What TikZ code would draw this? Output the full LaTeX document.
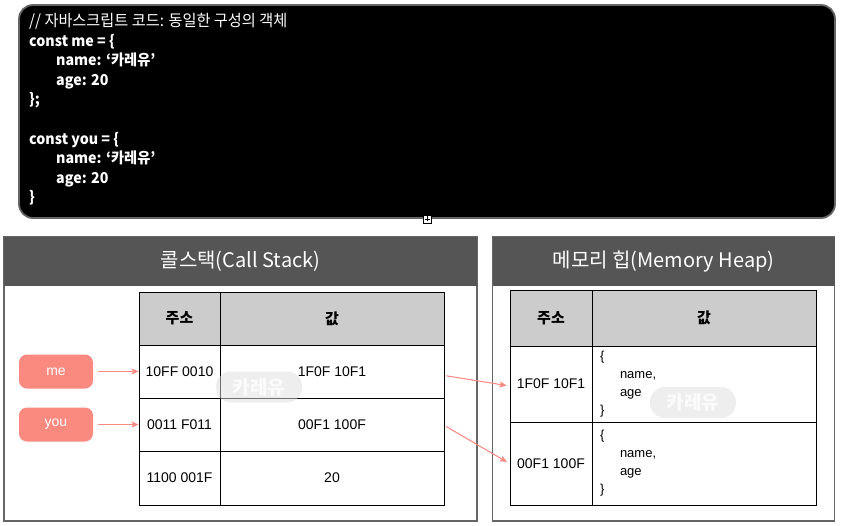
\documentclass[tikz,border=0pt]{standalone}
\usepackage{fontspec}
\usetikzlibrary{arrows.meta}
\setmainfont{Liberation Sans}
\newfontfamily\kr{Noto Sans CJK KR}
\newfontfamily\codefont[FakeStretch=0.95]{Noto Sans CJK KR}
\definecolor{salmon}{HTML}{FA8980}
\definecolor{hdgray}{HTML}{555555}
\definecolor{rimgray}{HTML}{666666}
\definecolor{cellgray}{HTML}{CCCCCC}

\begin{document}
\begin{tikzpicture}[x=1pt,y=-1pt,>={Stealth[length=7pt,width=6pt,inset=1.5pt]},
  cell/.style={draw,line width=0.9pt,inner sep=0pt,font=\fontsize{14}{16}\selectfont},
  headcell/.style={cell,fill=cellgray,font=\kr\bfseries\fontsize{15}{17}\selectfont},
  var/.style={fill=salmon,rounded corners=8pt,text=white,minimum width=74pt,minimum height=34pt,inner sep=0pt,font=\fontsize{14}{16}\selectfont},
  ptr/.style={->,draw=salmon,fill=salmon,line width=1pt},
  panel/.style={draw=rimgray,line width=1.6pt,fill=white,inner sep=0pt},
  panelhead/.style={fill=hdgray,text=white,inner sep=0pt,minimum height=49pt,font=\kr\fontsize{20}{22}\selectfont},
  stamp/.style={fill=gray!25,fill opacity=0.5,text opacity=0.8,text=white,rounded corners=15pt,minimum width=86pt,minimum height=31pt,inner sep=0pt,font=\kr\bfseries\fontsize{19}{21}\selectfont}]
  \useasboundingbox (0,0) rectangle (842,526);

  % code
  \node[draw=rimgray,line width=1.8pt,fill=black,rounded corners=14pt,minimum width=816pt,minimum height=213pt,inner sep=0pt] (code) at (427,111.5) {};
  \node[anchor=north west,inner sep=0pt,align=left,text=white,font=\codefont\bfseries\fontsize{15}{19.6}\selectfont] (src) at (29,13)
    {{\mdseries\fontsize{16}{19.6}\selectfont // 자바스크립트 코드: 동일한 구성의 객체}\\
     const me = \{\\
     \hspace*{27pt}name: ‘카레유’\\
     \hspace*{27pt}age: 20\\
     \};\\
     \mbox{}\\
     const you = \{\\
     \hspace*{27pt}name: ‘카레유’\\
     \hspace*{27pt}age: 20\\
     \}};
  \node[draw=black,fill=white,line width=0.6pt,minimum size=8pt,inner sep=0pt] (plus) at (code.south) {};
  \draw[line width=0.6pt] ([xshift=-2.5pt]plus.center) -- ([xshift=2.5pt]plus.center)
    ([yshift=-2.5pt]plus.center) -- ([yshift=2.5pt]plus.center);

  % call stack
  \node[panel,minimum width=473pt,minimum height=284pt] (stack) at (240.5,379) {};
  \node[panelhead,minimum width=473pt] (stackhd) at (240.5,261.5) {콜스택(Call Stack)};
  \node[headcell,minimum width=81pt,minimum height=53pt] (s0a) at (179.5,318.5) {주소};
  \node[headcell,minimum width=224pt,minimum height=53pt] (s0v) at (332,318.5) {값};
  \node[cell,minimum width=81pt,minimum height=53pt] (s1a) at (179.5,371.5) {10FF 0010};
  \node[cell,minimum width=224pt,minimum height=53pt] (s1v) at (332,371.5) {1F0F 10F1};
  \node[cell,minimum width=81pt,minimum height=53pt] (s2a) at (179.5,424.5) {0011 F011};
  \node[cell,minimum width=224pt,minimum height=53pt] (s2v) at (332,424.5) {00F1 100F};
  \node[cell,minimum width=81pt,minimum height=54pt] (s3a) at (179.5,478) {1100 001F};
  \node[cell,minimum width=224pt,minimum height=54pt] (s3v) at (332,478) {20};
  \node[var] (me) at (56,371.5) {me};
  \node[var] (you) at (56,424.5) {you};
  \draw[ptr,shorten <=5pt] (me) -- (s1a);
  \draw[ptr,shorten <=5pt] (you) -- (s2a);
  \node[stamp] (stamp1) at (259,387) {카레유};

  % memory heap
  \node[panel,minimum width=342pt,minimum height=284pt] (heap) at (663.5,379) {};
  \node[panelhead,minimum width=342pt] (heaphd) at (663.5,261.5) {메모리 힙(Memory Heap)};
  \node[headcell,minimum width=82pt,minimum height=56pt] (h0a) at (551,318) {주소};
  \node[headcell,minimum width=224pt,minimum height=56pt] (h0v) at (704,318) {값};
  \node[cell,minimum width=82pt,minimum height=76pt] (h1a) at (551,384) {1F0F 10F1};
  \node[cell,minimum width=224pt,minimum height=76pt,text width=208pt,align=left,font=\fontsize{13}{18}\selectfont] (h1v) at (704,384)
    {\{\\\hspace*{20pt}name,\\\hspace*{20pt}age\\\}};
  \node[cell,minimum width=82pt,minimum height=83pt] (h2a) at (551,463.5) {00F1 100F};
  \node[cell,minimum width=224pt,minimum height=83pt,text width=208pt,align=left,font=\fontsize{13}{18}\selectfont] (h2v) at (704,463.5)
    {\{\\\hspace*{20pt}name,\\\hspace*{20pt}age\\\}};
  \node[stamp] (stamp2) at (693,402.5) {카레유};

  \draw[ptr,shorten <=2pt,shorten >=3pt] ([yshift=-4pt]s1v.east) -- ([yshift=-2pt]h1a.west);
  \draw[ptr,shorten <=2pt,shorten >=3pt] ([yshift=-1pt]s2v.east) -- (h2a.west);
\end{tikzpicture}
\end{document}
